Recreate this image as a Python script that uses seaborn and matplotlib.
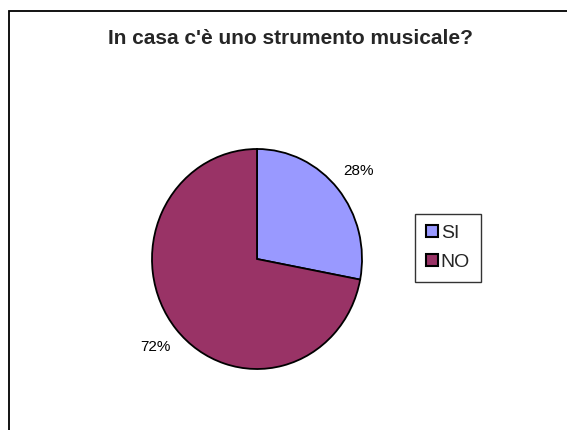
import matplotlib
matplotlib.use("Agg")
import matplotlib.pyplot as plt
from matplotlib.patches import Rectangle, Patch
import seaborn as sns

categories = ["SI", "NO"]
values = [28, 72]
colors = ["#9999FF", "#993366"]
title = "In casa c'è uno strumento musicale?"

sns.set_theme(style="white")
plt.rcParams['font.family'] = ['Liberation Sans', 'DejaVu Sans']

W, H = 567, 430
fig = plt.figure(figsize=(W / 100, H / 100), dpi=100)
fig.patch.set_facecolor("white")

# chart area border (runs off the right and bottom edges)
fig.patches.append(Rectangle((9 / W, -0.1), 1.2, (H - 11) / H + 0.1,
                             transform=fig.transFigure, fill=False,
                             edgecolor="black", linewidth=1.3))

fig.text(291 / W, 1 - 38 / H, title, ha="center", va="center",
         fontsize=15, fontweight="bold")

cx, cy, rx, ry = 257, 259, 105, 110
ax = fig.add_axes([(cx - rx) / W, (H - cy - ry) / H, 2 * rx / W, 2 * ry / H])
wedges, texts, autotexts = ax.pie(
    values, colors=colors, startangle=90, counterclock=False,
    autopct=lambda p: f"{p:.0f}%", pctdistance=1.25,
    wedgeprops=dict(edgecolor="black", linewidth=1.3),
    textprops=dict(fontsize=11, color="black"))
ax.set_aspect("auto")
ax.set_xlim(-1, 1)
ax.set_ylim(-1, 1)

handles = [Patch(facecolor=c, edgecolor="black", linewidth=1.5) for c in colors]
leg = fig.legend(handles, categories, loc="center",
                 bbox_to_anchor=(448 / W, 1 - 248 / H),
                 fontsize=14, frameon=True, fancybox=False,
                 handlelength=0.6, handleheight=0.6, handletextpad=0.15,
                 labelspacing=0.6, borderpad=0.55, borderaxespad=0)
leg.get_frame().set_edgecolor("black")
leg.get_frame().set_linewidth(1.0)

fig.savefig("out.png", dpi=100)
